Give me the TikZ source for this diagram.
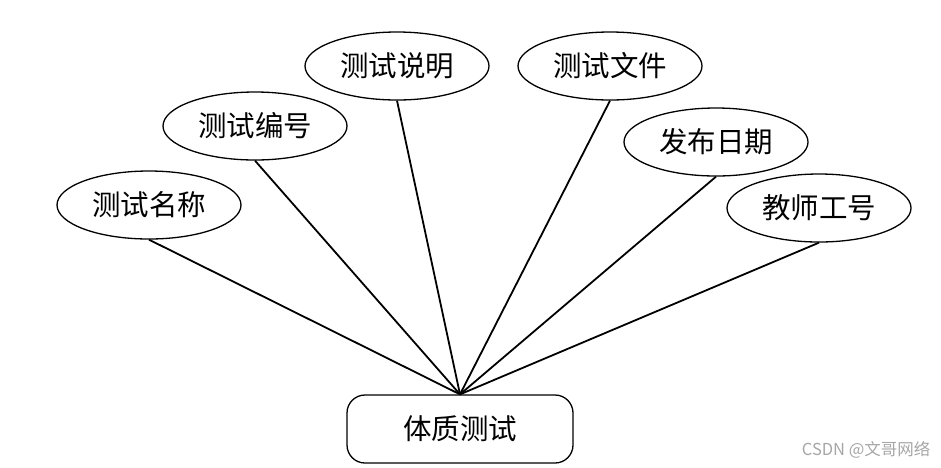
\documentclass[tikz,border=0pt]{standalone}
\usepackage{fontspec}
\newfontfamily\cjk{Noto Sans CJK SC}
\usetikzlibrary{shapes.geometric}
\begin{document}
\begin{tikzpicture}[x=1pt,y=-1pt,
  attr/.style={ellipse,draw,line width=1.3pt,minimum width=184pt,minimum height=68pt,inner sep=0pt,font=\cjk\fontsize{28.5}{32}\selectfont},
  ent/.style={rectangle,rounded corners=18pt,draw,line width=1.3pt,minimum width=226pt,minimum height=68pt,inner sep=0pt,font=\cjk\fontsize{28.5}{32}\selectfont},
  link/.style={line width=1.8pt}]
\useasboundingbox (0,0) rectangle (941,467);
\node[attr] (a1) at (149,205) {测试名称};
\node[attr] (a2) at (255,126) {测试编号};
\node[attr] (a3) at (397,66) {测试说明};
\node[attr] (a4) at (610,66) {测试文件};
\node[attr] (a5) at (716,142) {发布日期};
\node[attr] (a6) at (819,208) {教师工号};
\node[ent] (e) at (460,429) {体质测试};
\coordinate (c) at (e.north);
\foreach \n in {a1,a2,a3,a4,a5,a6} \draw[link] (\n.south) -- (c);
\node[font=\cjk\fontsize{16.5}{18}\selectfont,text=gray!70,anchor=east] (wm) at (934,450) {CSDN @文哥网络};
\end{tikzpicture}
\end{document}
